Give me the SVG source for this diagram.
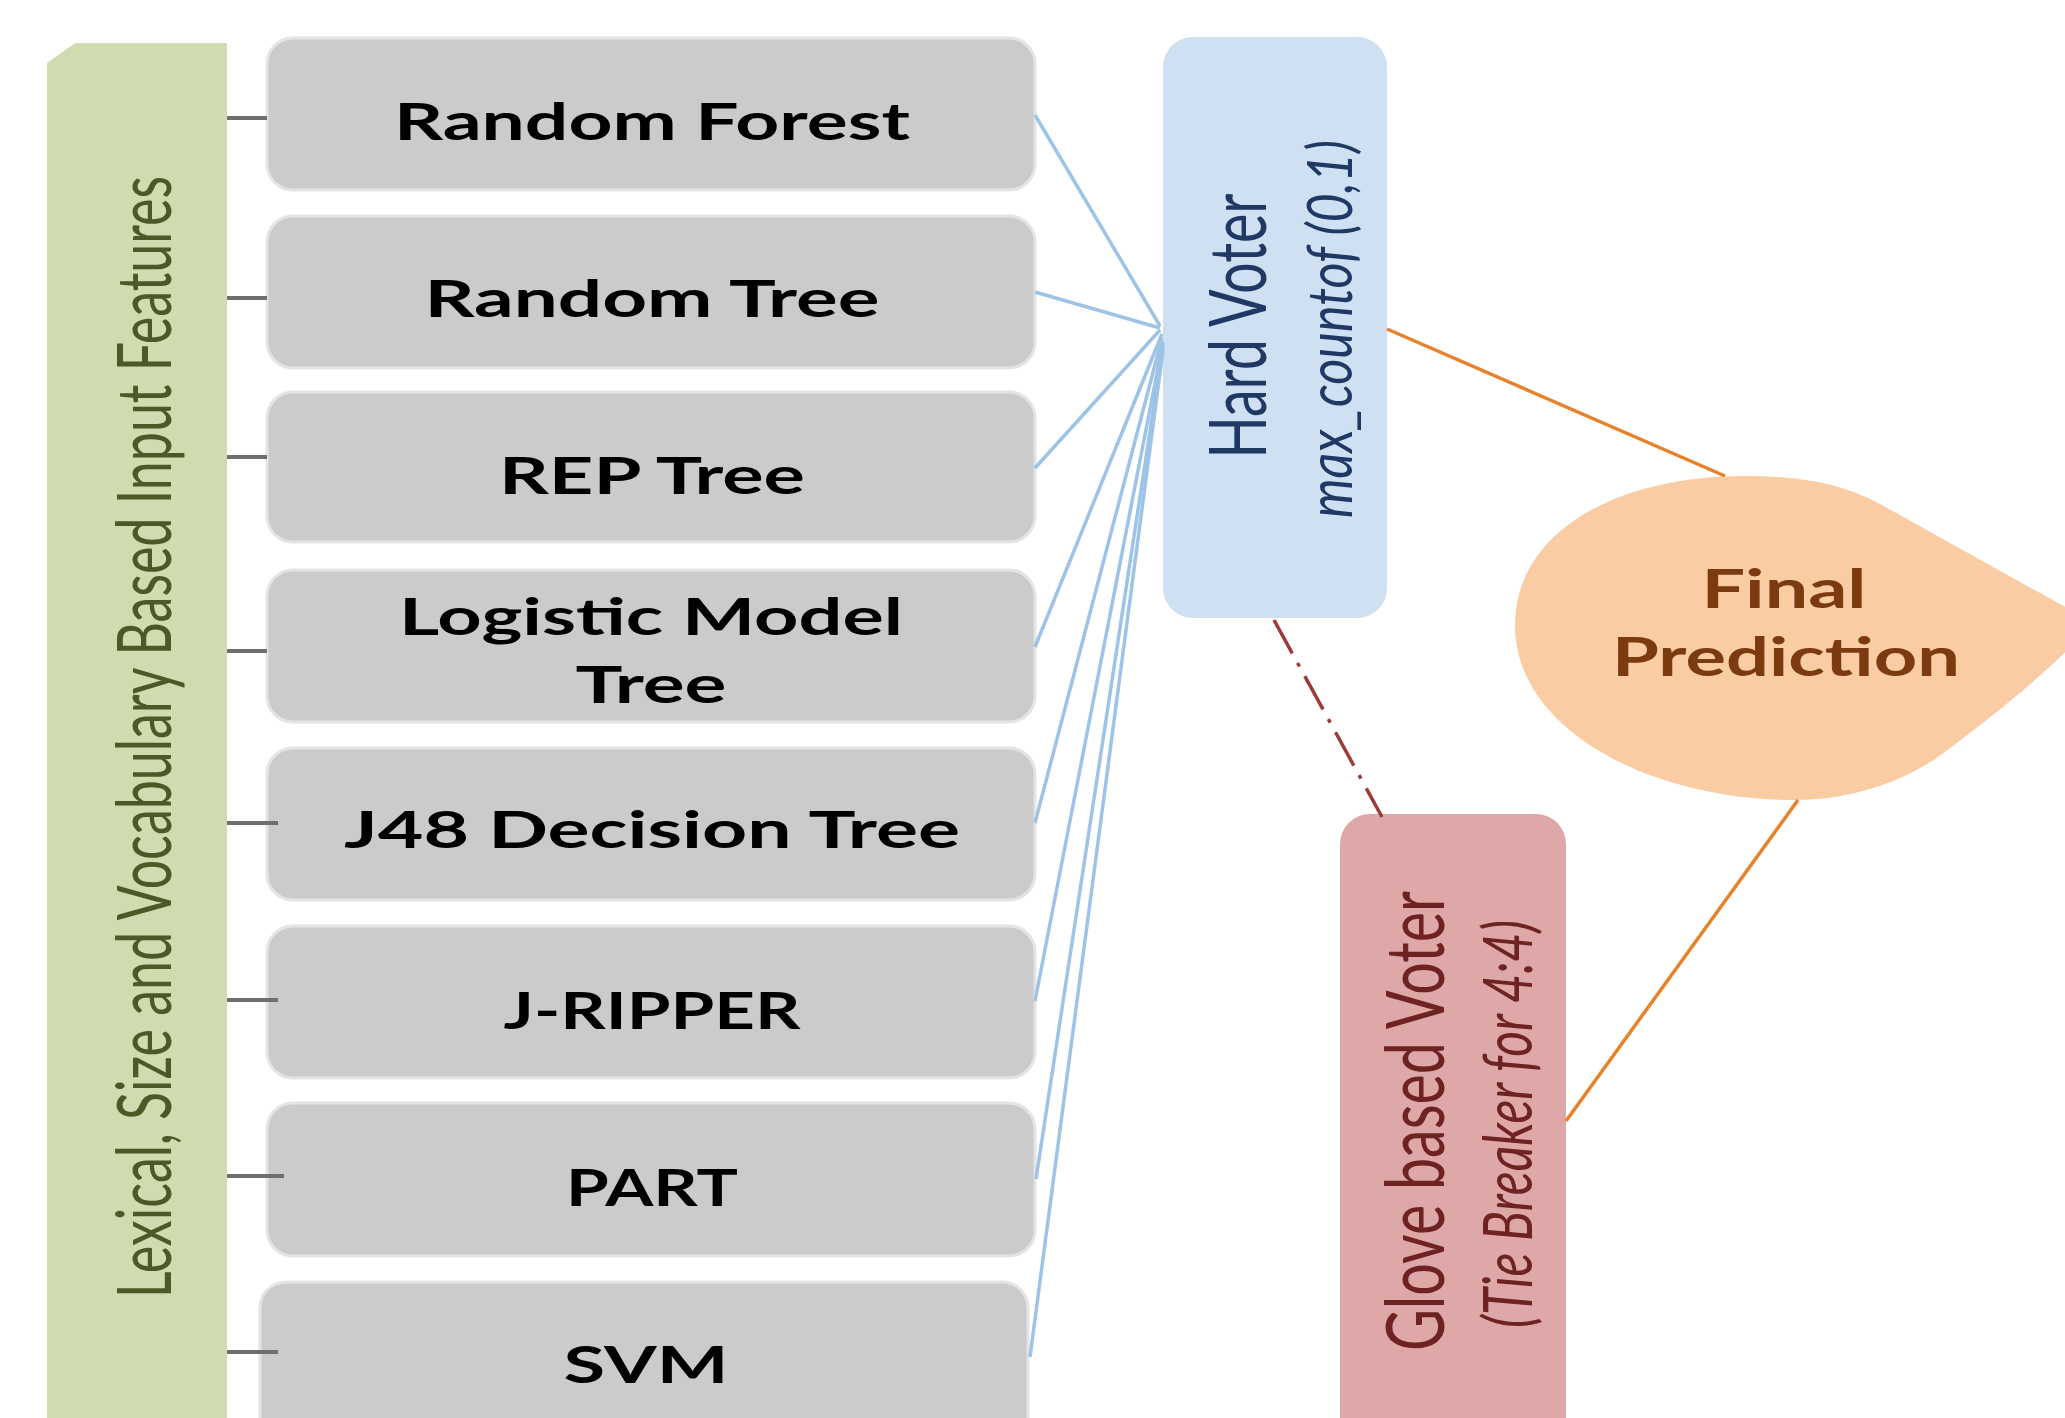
<svg xmlns="http://www.w3.org/2000/svg" width="2065" height="1418" viewBox="0 0 2065 1418">
<defs>
<style>
.box{fill:#CBCBCB;stroke:#E4E4E4;stroke-width:3}
.bt{font-family:Lato,"Liberation Sans",sans-serif;font-weight:700;font-size:51px;fill:#000;text-anchor:middle}
.stub{stroke:#6E6E6E;stroke-width:4;fill:none}
.blue{stroke:#9DC3E6;stroke-width:3.5;fill:none}
.orange{stroke:#E8822A;stroke-width:3.5;fill:none}
.dd{stroke:#9E3A3A;stroke-width:3.5;fill:none;stroke-dasharray:38 11 4 11}
</style>
</defs>
<rect width="2065" height="1418" fill="#FFFFFF"/>

<g id="input-features">
<path d="M47 63 L75 43 L227 43 L227 1430 L47 1430 Z" fill="#CFDCAF"/>
<text transform="translate(171,737) rotate(-90)" font-family="Lato,'Liberation Sans',sans-serif" font-size="76" fill="#4D5826" text-anchor="middle" textLength="1122" lengthAdjust="spacingAndGlyphs">Lexical, Size and Vocabulary Based Input Features</text>
</g>

<g id="random-forest"><rect class="box" x="267" y="38" width="768" height="152" rx="26"/><text class="bt" x="652" y="140" textLength="516" lengthAdjust="spacingAndGlyphs">Random Forest</text></g>
<g id="random-tree"><rect class="box" x="267" y="216" width="768" height="152" rx="26"/><text class="bt" x="652" y="317" textLength="455" lengthAdjust="spacingAndGlyphs">Random Tree</text></g>
<g id="rep-tree"><rect class="box" x="267" y="392" width="768" height="150" rx="26"/><text class="bt" x="652" y="494" textLength="306" lengthAdjust="spacingAndGlyphs">REP Tree</text></g>
<g id="logistic-model-tree"><rect class="box" x="267" y="570" width="768" height="152" rx="26"/><text class="bt" x="651" y="635" textLength="504" lengthAdjust="spacingAndGlyphs">Logistic Model</text><text class="bt" x="651" y="703" textLength="151" lengthAdjust="spacingAndGlyphs">Tree</text></g>
<g id="j48-decision-tree"><rect class="box" x="267" y="748" width="768" height="152" rx="26"/><text class="bt" x="652" y="848" textLength="616" lengthAdjust="spacingAndGlyphs">J48 Decision Tree</text></g>
<g id="j-ripper"><rect class="box" x="267" y="926" width="768" height="152" rx="26"/><text class="bt" x="652" y="1029" textLength="297" lengthAdjust="spacingAndGlyphs">J-RIPPER</text></g>
<g id="part"><rect class="box" x="267" y="1103" width="768" height="153" rx="26"/><text class="bt" x="652" y="1206" textLength="172" lengthAdjust="spacingAndGlyphs">PART</text></g>
<g id="svm"><rect class="box" x="260" y="1282" width="768" height="160" rx="26"/><text class="bt" x="646" y="1383" textLength="165" lengthAdjust="spacingAndGlyphs">SVM</text></g>

<g id="hard-voter">
<rect x="1163" y="37" width="224" height="581" rx="30" fill="#D0E0F3"/>
<text transform="translate(1266,326) rotate(-90)" font-family="Lato,'Liberation Sans',sans-serif" font-size="80" fill="#1F3864" text-anchor="middle" textLength="265" lengthAdjust="spacingAndGlyphs">Hard Voter</text>
<text transform="translate(1352,329) rotate(-90)" font-family="Lato,'Liberation Sans',sans-serif" font-style="italic" font-size="62" fill="#1F3864" text-anchor="middle" textLength="378" lengthAdjust="spacingAndGlyphs">max_countof (0,1)</text>
</g>

<g id="glove-voter">
<rect x="1340" y="814" width="226" height="700" rx="30" fill="#DFA8A8"/>
<text transform="translate(1444,1121) rotate(-90)" font-family="Lato,'Liberation Sans',sans-serif" font-size="82" fill="#6E2222" text-anchor="middle" textLength="460" lengthAdjust="spacingAndGlyphs">Glove based Voter</text>
<text transform="translate(1532,1124) rotate(-90)" font-family="Lato,'Liberation Sans',sans-serif" font-style="italic" font-size="68" fill="#6E2222" text-anchor="middle" textLength="408" lengthAdjust="spacingAndGlyphs">(Tie Breaker for 4:4)</text>
</g>

<g id="final-prediction">
<path d="M2094 623 L1880 504 C1840 482 1795 476 1743 476 C1620 476 1515 530 1515 625 C1515 730 1650 800 1795 800 C1850 800 1905 782 1945 752 C1990 718 2040 680 2094 623 Z" fill="#F9CCA3"/>
<text x="1784" y="608" font-family="Lato,'Liberation Sans',sans-serif" font-weight="700" font-size="54" fill="#7B3A10" text-anchor="middle" textLength="165" lengthAdjust="spacingAndGlyphs">Final</text>
<text x="1786" y="676" font-family="Lato,'Liberation Sans',sans-serif" font-weight="700" font-size="54" fill="#7B3A10" text-anchor="middle" textLength="348" lengthAdjust="spacingAndGlyphs">Prediction</text>
</g>

<g id="connectors">
<line class="stub" x1="227" y1="118" x2="267" y2="118"/>
<line class="stub" x1="227" y1="298" x2="267" y2="298"/>
<line class="stub" x1="227" y1="457" x2="267" y2="457"/>
<line class="stub" x1="227" y1="651" x2="267" y2="651"/>
<line class="stub" x1="227" y1="823" x2="278" y2="823"/>
<line class="stub" x1="227" y1="1000" x2="278" y2="1000"/>
<line class="stub" x1="227" y1="1176" x2="284" y2="1176"/>
<line class="stub" x1="227" y1="1352" x2="278" y2="1352"/>
<line class="blue" x1="1035" y1="115" x2="1160" y2="326"/>
<line class="blue" x1="1035" y1="292" x2="1160" y2="328"/>
<line class="blue" x1="1035" y1="468" x2="1160" y2="330"/>
<line class="blue" x1="1035" y1="647" x2="1162" y2="334"/>
<line class="blue" x1="1035" y1="823" x2="1162" y2="338"/>
<line class="blue" x1="1035" y1="1001" x2="1163" y2="342"/>
<line class="blue" x1="1036" y1="1179" x2="1163" y2="346"/>
<line class="blue" x1="1030" y1="1357" x2="1163" y2="350"/>
<line class="orange" x1="1387" y1="329" x2="1725" y2="476"/>
<line class="orange" x1="1566" y1="1121" x2="1798" y2="800"/>
<line class="dd" x1="1274" y1="620" x2="1382" y2="817"/>
</g>
</svg>
